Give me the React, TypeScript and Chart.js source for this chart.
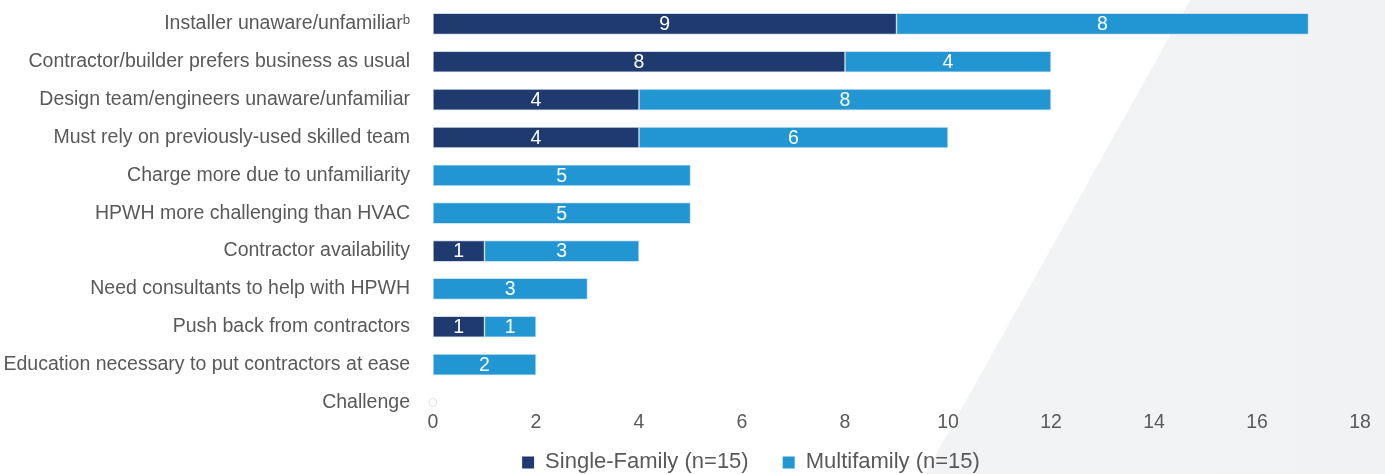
import React, { useEffect, useRef } from "react";
import { Chart, registerables } from "chart.js";

Chart.register(...registerables);

const categories = [
  "Installer unaware/unfamiliarᵇ",
  "Contractor/builder prefers business as usual",
  "Design team/engineers unaware/unfamiliar",
  "Must rely on previously-used skilled team",
  "Charge more due to unfamiliarity",
  "HPWH more challenging than HVAC",
  "Contractor availability",
  "Need consultants to help with HPWH",
  "Push back from contractors",
  "Education necessary to put contractors at ease",
  "Challenge",
];

const singleFamily: (number | null)[] = [9, 8, 4, 4, null, null, 1, null, 1, null, null];
const multifamily: (number | null)[] = [8, 4, 8, 6, 5, 5, 3, 3, 1, 2, null];
const challengeMarker: (number | null)[] = [null, null, null, null, null, null, null, null, null, null, 0];

const seriesNames = ["Single-Family (n=15)", "Multifamily (n=15)"];
const xTicks = [0, 2, 4, 6, 8, 10, 12, 14, 16, 18];

const NAVY = "#1f3a6f";
const BLUE = "#2196d3";
const TEXT = "#595959";
const FONT = "'Liberation Sans', Arial, sans-serif";
const LABEL_SIZE = 19.5;

const valueLabels = {
  id: "valueLabels",
  afterDatasetsDraw(chart: any) {
    const ctx = chart.ctx;
    ctx.save();
    ctx.fillStyle = "#ffffff";
    ctx.font = `${LABEL_SIZE}px ${FONT}`;
    ctx.textAlign = "center";
    ctx.textBaseline = "middle";
    chart.data.datasets.forEach((ds: any, di: number) => {
      if (ds.type === "line") return;
      const meta = chart.getDatasetMeta(di);
      meta.data.forEach((el: any, i: number) => {
        const v = ds.data[i];
        if (v === null || v === undefined) return;
        const cx = (el.x + el.base) / 2;
        ctx.fillText(String(v), cx, el.y + 1);
      });
    });
    ctx.restore();
  },
};

const legendShift = {
  id: "legendShift",
  afterLayout(chart: any) {
    const lg = chart.legend;
    if (lg) {
      lg.left += 71;
      lg.right += 71;
    }
  },
};

export default function App() {
  const ref = useRef<HTMLCanvasElement>(null);

  useEffect(() => {
    document.body.style.margin = "0";
    const chart = new Chart(ref.current as HTMLCanvasElement, {
      type: "bar",
      data: {
        labels: categories,
        datasets: [
          {
            label: seriesNames[0],
            data: singleFamily,
            backgroundColor: NAVY,
            borderColor: "#cfdce8",
            borderWidth: 1,
            borderSkipped: false,
            barThickness: 21,
          } as any,
          {
            label: seriesNames[1],
            data: multifamily,
            backgroundColor: BLUE,
            borderColor: "#cfe2ef",
            borderWidth: 1,
            borderSkipped: false,
            barThickness: 21,
          } as any,
          {
            type: "line",
            label: "marker",
            data: challengeMarker,
            showLine: false,
            clip: false,
            pointRadius: 4,
            pointBorderWidth: 1,
            pointBorderColor: "#e0e0e0",
            pointBackgroundColor: "rgba(255,255,255,0)",
          } as any,
        ],
      },
      options: {
        indexAxis: "y",
        animation: false,
        responsive: true,
        maintainAspectRatio: false,
        layout: { padding: { left: 0, right: 25, top: 4, bottom: -13.4 } },
        scales: {
          x: {
            stacked: true,
            min: 0,
            max: 18,
            afterBuildTicks: (scale: any) => {
              scale.ticks = xTicks.map((v) => ({ value: v }));
            },
            grid: { display: false, drawTicks: false },
            border: { display: false },
            ticks: {
              mirror: true,
              padding: -2,
              color: TEXT,
              font: { family: FONT, size: LABEL_SIZE, lineHeight: 0.05 },
            },
          },
          y: {
            stacked: true,
            afterFit: (scale: any) => {
              scale.width = 433;
            },
            grid: { display: false, drawTicks: true, tickLength: 23 },
            border: { display: false },
            ticks: {
              padding: 0,
              color: TEXT,
              font: { family: FONT, size: LABEL_SIZE, lineHeight: 0.4 },
              autoSkip: false,
            },
          },
        },
        plugins: {
          legend: {
            position: "bottom",
            labels: {
              color: TEXT,
              font: { family: FONT, size: 22 },
              boxWidth: 12,
              boxHeight: 12,
              padding: 34,
              filter: (item: any) => item.datasetIndex < 2,
              generateLabels: (chart: any) => {
                const items = Chart.defaults.plugins.legend.labels.generateLabels(chart);
                return items.map((it: any) => ({ ...it, strokeStyle: it.fillStyle, lineWidth: 0 }));
              },
            },
          },
          tooltip: { enabled: false },
        },
      },
      plugins: [valueLabels, legendShift],
    });
    return () => chart.destroy();
  }, []);

  return (
    <div style={{ position: "fixed", left: 0, top: 0, width: 1385, height: 474, background: "#ffffff" }}>
      <div
        style={{
          position: "absolute",
          inset: 0,
          background: "linear-gradient(90deg, #f4f5f5 0%, #f1f2f3 100%)",
          clipPath: "polygon(1190px 0px, 1385px 0px, 1385px 474px, 925px 474px)",
        }}
      />
      <div style={{ position: "absolute", inset: 0 }}>
        <canvas ref={ref} />
      </div>
    </div>
  );
}
